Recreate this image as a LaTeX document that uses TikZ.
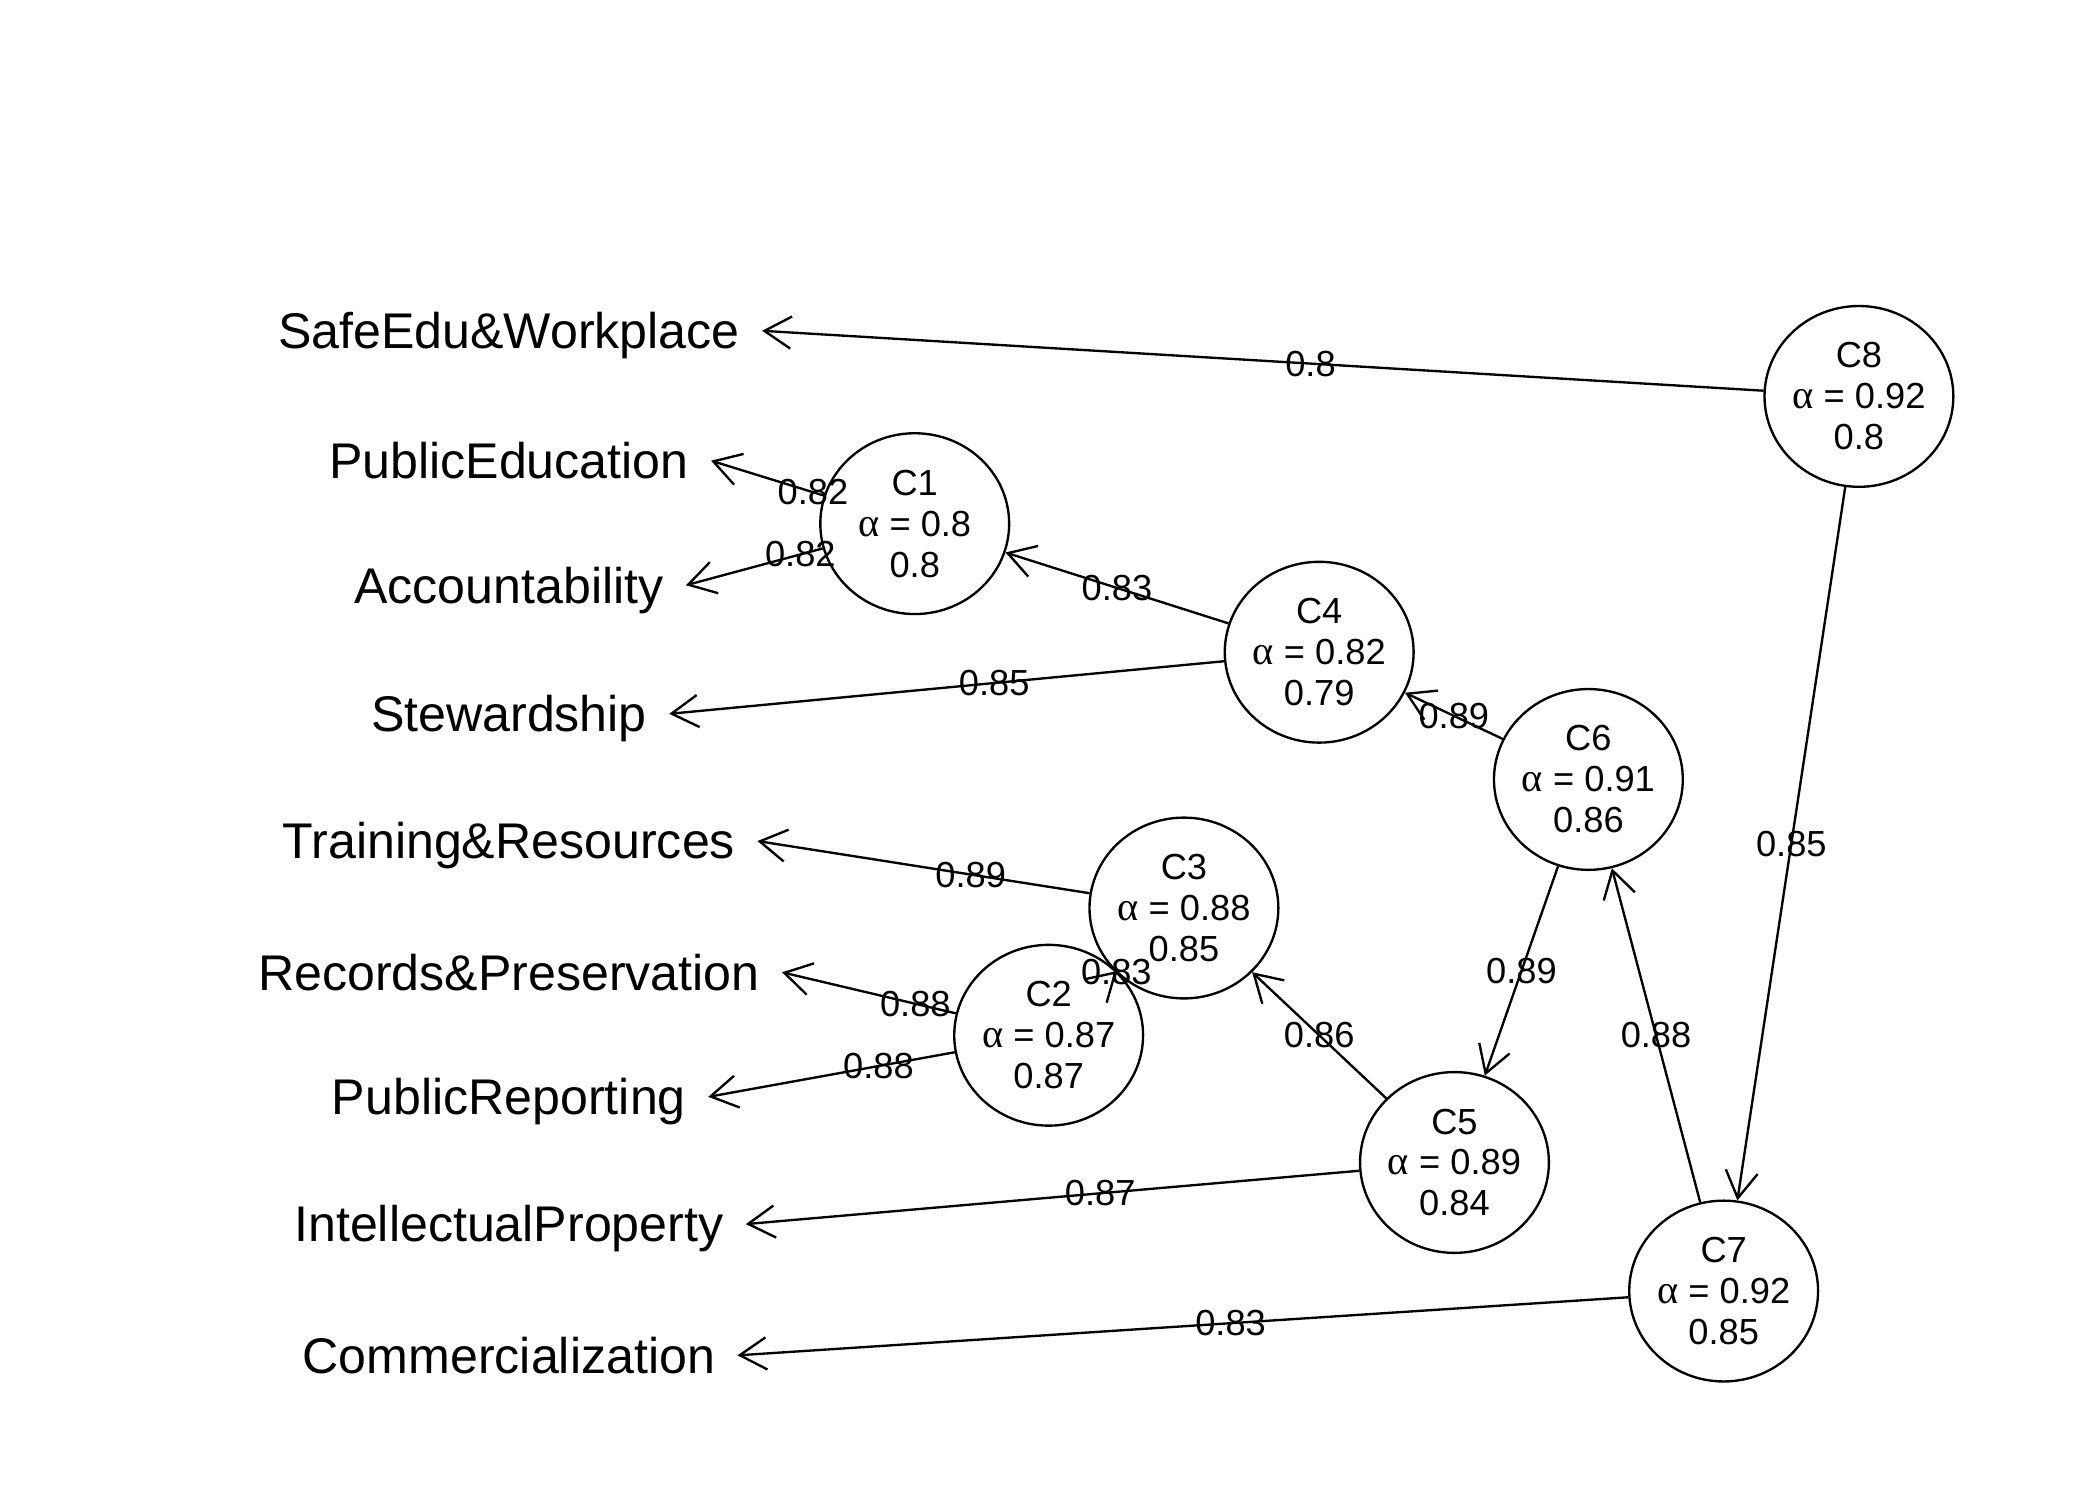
\documentclass[tikz,border=0pt]{standalone}
\usepackage{fontspec}
\setmainfont{Liberation Sans}
\newfontfamily\greekfont{Liberation Serif}
\newcommand{\alp}{{\greekfont\fontsize{8.6}{8.7}\selectfont α}}
\usetikzlibrary{arrows.meta,calc,shapes.geometric}

\begin{document}
\begin{tikzpicture}[
  x=0.1mm, y=-0.1mm,
  clus/.style={draw, ellipse, line width=0.5pt, minimum width=14.1mm, minimum height=13.5mm, inner xsep=-2pt, inner ysep=0pt, align=center, font=\fontsize{7.7}{8.7}\selectfont},
  var/.style={inner xsep=1.6mm, inner ysep=0pt, text height=7.6pt, text depth=0pt, font=\fontsize{10.65}{12}\selectfont},
  lab/.style={inner sep=0pt, font=\fontsize{7.7}{8.7}\selectfont},
  arr/.style={-{Straight Barb[length=2mm, width=2.4mm]}, line width=0.5pt}
]
\useasboundingbox (0,0) rectangle (1568,1120);

% items
\node[var] (safe) at (380,247) {SafeEdu\&Workplace};
\node[var] (pubed) at (380,344) {PublicEducation};
\node[var] (acc) at (380,437) {Accountability};
\node[var] (stew) at (380,533) {Stewardship};
\node[var] (train) at (380,628) {Training\&Resources};
\node[var] (rec) at (380,726) {Records\&Preservation};
\node[var] (pubrep) at (380,819) {PublicReporting};
\node[var] (intel) at (380,914) {IntellectualProperty};
\node[var] (comm) at (380,1012) {Commercialization};

% clusters
\node[clus] (C1) at (683,391) {C1\\\alp{} = 0.8\\0.8};
\node[clus] (C2) at (783,773) {C2\\\alp{} = 0.87\\0.87};
\node[clus] (C3) at (884,678) {C3\\\alp{} = 0.88\\0.85};
\node[clus] (C4) at (985,487) {C4\\\alp{} = 0.82\\0.79};
\node[clus] (C5) at (1086,868) {C5\\\alp{} = 0.89\\0.84};
\node[clus] (C6) at (1186,582) {C6\\\alp{} = 0.91\\0.86};
\node[clus] (C7) at (1287,964) {C7\\\alp{} = 0.92\\0.85};
\node[clus] (C8) at (1388,296) {C8\\\alp{} = 0.92\\0.8};

\draw[arr] (C8) -- (safe.east);
\draw[arr] (C8) -- (C7);
\draw[arr] (C7) -- (C6);
\draw[arr] (C7) -- (comm.east);
\draw[arr] (C6) -- (C4);
\draw[arr] (C6) -- (C5);
\draw[arr] (C4) -- (C1);
\draw[arr] (C4) -- (stew.east);
\draw[arr] (C1) -- (pubed.east);
\draw[arr] (C1) -- (acc.east);
\draw[arr] (C5) -- (C3);
\draw[arr] (C5) -- (intel.east);
\draw[arr] (C3) -- (train.east);
\draw[arr] (C3) -- (C2); % circles overlap, so the tip turns round
\draw[arr] (C2) -- (rec.east);
\draw[arr] (C2) -- (pubrep.east);

% loadings, halfway between centres
\node[lab] (w8s) at ($(C8)!.5!(safe.east)$) {0.8};
\node[lab] (w87) at ($(C8)!.5!(C7)$) {0.85};
\node[lab] (w76) at ($(C7)!.5!(C6)$) {0.88};
\node[lab] (w7c) at ($(C7)!.5!(comm.east)$) {0.83};
\node[lab] (w64) at ($(C6)!.5!(C4)$) {0.89};
\node[lab] (w65) at ($(C6)!.5!(C5)$) {0.89};
\node[lab] (w41) at ($(C4)!.5!(C1)$) {0.83};
\node[lab] (w4s) at ($(C4)!.5!(stew.east)$) {0.85};
\node[lab] (w1p) at ($(C1)!.5!(pubed.east)$) {0.82};
\node[lab] (w1a) at ($(C1)!.5!(acc.east)$) {0.82};
\node[lab] (w53) at ($(C5)!.5!(C3)$) {0.86};
\node[lab] (w5i) at ($(C5)!.5!(intel.east)$) {0.87};
\node[lab] (w3t) at ($(C3)!.5!(train.east)$) {0.89};
\node[lab] (w32) at ($(C3)!.5!(C2)$) {0.83};
\node[lab] (w2r) at ($(C2)!.5!(rec.east)$) {0.88};
\node[lab] (w2p) at ($(C2)!.5!(pubrep.east)$) {0.88};
\end{tikzpicture}
\end{document}
